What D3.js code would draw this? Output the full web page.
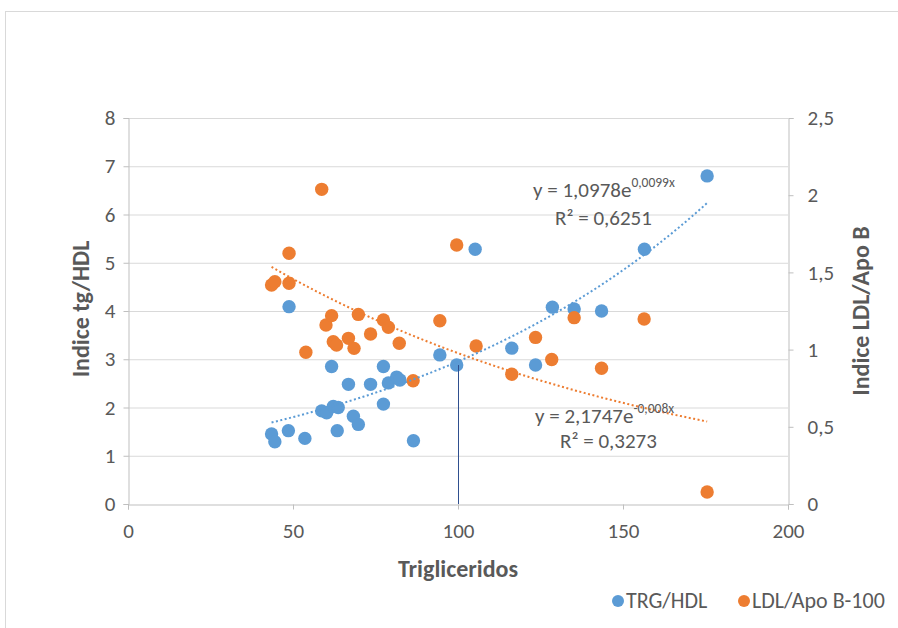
<!DOCTYPE html>
<html><head><meta charset="utf-8">
<script src="https://cdn.jsdelivr.net/npm/d3@7"></script>
<style>
body{margin:0;background:#fff;}
svg text{font-family:Carlito,Calibri,"Liberation Sans Narrow","Open Sans",sans-serif;fill:#595959;}
</style></head>
<body><svg id="c" width="898" height="628"></svg>
<script>
// TRG/HDL (left axis)
const trgX = [43.5,44.5,48.6,48.8,53.6,58.7,60.2,61.7,62.2,63.7,63.4,66.8,68.3,69.8,73.5,77.4,77.4,78.9,81.4,82.4,86.5,94.5,99.6,105.2,116.3,123.5,128.6,135.2,143.5,156.5,175.5];
const trgY = [1.45,1.29,1.52,4.09,1.36,1.93,1.89,2.85,2.02,2.0,1.52,2.48,1.82,1.65,2.48,2.85,2.07,2.51,2.63,2.57,1.31,3.09,2.88,5.28,3.23,2.88,4.08,4.04,4.0,5.28,6.8];
// LDL/Apo B-100 (right axis)
const ldlX = [43.5,44.5,48.8,48.8,58.7,60.0,61.7,62.2,63.2,66.8,68.5,69.8,73.5,77.4,78.9,82.2,53.9,86.4,94.5,99.6,105.5,116.3,123.5,128.4,135.2,143.5,156.4,175.5];
const ldlY = [1.418,1.44,1.624,1.43,2.038,1.159,1.22,1.051,1.03,1.073,1.008,1.228,1.101,1.192,1.145,1.041,0.983,0.798,1.187,1.677,1.023,0.84,1.079,0.936,1.207,0.879,1.198,0.078];
const xTicks = [0,50,100,150,200];
const yLeftTicks = [0,1,2,3,4,5,6,7,8];
const yRightTicks = [0,0.5,1,1.5,2,2.5];
const trend1 = {a:1.0978,b:0.0099,r2:"0,6251",label:"1,0978",exp:"0,0099x"};
const trend2 = {a:2.1747,b:-0.008,r2:"0,3273",label:"2,1747",exp:"-0,008x"};
const series = ["TRG/HDL","LDL/Apo B-100"];
const colors = ["#5b9bd5","#ed7d31"];

const svg = d3.select("#c");
const fmt = v => String(v).replace(".", ",");
svg.append("rect").attr("x",5.5).attr("y",11.5).attr("width",900).attr("height",630)
  .attr("fill","#fff").attr("stroke","#d9d9d9");

const L=128,R=788,T=118,B=504;
const x = d3.scaleLinear().domain([0,200]).range([L,R]);
const yL = d3.scaleLinear().domain([0,8]).range([B,T]);
const yR = d3.scaleLinear().domain([0,2.5]).range([B,T]);

// gridlines
svg.append("g").selectAll("line").data(yLeftTicks.filter(d=>d>0)).join("line")
  .attr("x1",L).attr("x2",R).attr("y1",d=>yL(d)+0.5).attr("y2",d=>yL(d)+0.5)
  .attr("stroke","#d9d9d9").attr("stroke-width",1);

function styleAxis(g){
  g.select(".domain").attr("stroke","#bfbfbf");
  g.selectAll(".tick line").attr("stroke","#bfbfbf");
  g.selectAll(".tick text").attr("fill","#595959").style("font-size","21px");
}
const gx = svg.append("g").attr("transform",`translate(0,${B+0.5})`)
  .call(d3.axisBottom(x).tickValues(xTicks).tickSizeOuter(0).tickSize(5).tickPadding(14));
styleAxis(gx);
const gl = svg.append("g").attr("transform",`translate(${L+0.5},0)`)
  .call(d3.axisLeft(yL).tickValues(yLeftTicks).tickSizeOuter(0).tickSize(5).tickPadding(8).tickFormat(fmt));
styleAxis(gl);
const gr = svg.append("g").attr("transform",`translate(${R+0.5},0)`)
  .call(d3.axisRight(yR).tickValues(yRightTicks).tickSizeOuter(0).tickSize(5).tickPadding(14).tickFormat(fmt));
styleAxis(gr);

// points
const trg = trgX.map((v,i)=>[v,trgY[i]]);
const ldl = ldlX.map((v,i)=>[v,ldlY[i]]);
svg.append("g").selectAll("circle").data(trg).join("circle")
  .attr("cx",d=>x(d[0])).attr("cy",d=>yL(d[1])).attr("r",6.7).attr("fill",colors[0]);
svg.append("g").selectAll("circle").data(ldl).join("circle")
  .attr("cx",d=>x(d[0])).attr("cy",d=>yR(d[1])).attr("r",6.7).attr("fill",colors[1]);

// trendlines
const x0 = d3.min(trgX), x1 = d3.max(trgX);
const xs = d3.range(x0, x1+0.01, 1);
const line1 = d3.line().x(d=>x(d)).y(d=>yL(trend1.a*Math.exp(trend1.b*d)));
const line2 = d3.line().x(d=>x(d)).y(d=>yR(trend2.a*Math.exp(trend2.b*d)));
svg.append("path").attr("d",line1(xs)).attr("fill","none").attr("stroke",colors[0])
  .attr("stroke-width",2).attr("stroke-dasharray","2,2.5");
svg.append("path").attr("d",line2(xs)).attr("fill","none").attr("stroke",colors[1])
  .attr("stroke-width",2).attr("stroke-dasharray","2,2.5");

// vertical reference line at x=100
svg.append("line").attr("x1",x(100)+0.5).attr("x2",x(100)+0.5)
  .attr("y1",yL(trgY[22])).attr("y2",B).attr("stroke","#2f4f8f").attr("stroke-width",1);

// equations
function eq(tx,ty,t){
  const te = svg.append("text").attr("x",tx).attr("y",ty).style("font-size","21px");
  te.append("tspan").text("y = "+t.label+"e");
  te.append("tspan").attr("dy",-10).style("font-size","13.5px").text(t.exp);
}
eq(533,197,trend1);
svg.append("text").attr("x",555).attr("y",225).style("font-size","21px").text("R² = "+trend1.r2);
eq(535,423,trend2);
svg.append("text").attr("x",560).attr("y",448).style("font-size","21px").text("R² = "+trend2.r2);

// axis titles
svg.append("text").attr("transform",`translate(89,309) rotate(-90)`).attr("text-anchor","middle")
  .style("font-size","24px").style("font-weight","bold").text("Indice tg/HDL");
svg.append("text").attr("transform",`translate(869,311) rotate(-90)`).attr("text-anchor","middle")
  .style("font-size","24px").style("font-weight","bold").text("Indice LDL/Apo B");
svg.append("text").attr("x",(L+R)/2).attr("y",577).attr("text-anchor","middle")
  .style("font-size","24px").style("font-weight","bold").text("Triglicerídos".replace("í","i"));

// legend
const lg = svg.append("g");
const legX = [618,744];
series.forEach((s,i)=>{
  lg.append("circle").attr("cx",legX[i]).attr("cy",601).attr("r",6).attr("fill",colors[i]);
  lg.append("text").attr("x",legX[i]+8).attr("y",608).style("font-size","22px").text(s);
});
</script></body></html>
